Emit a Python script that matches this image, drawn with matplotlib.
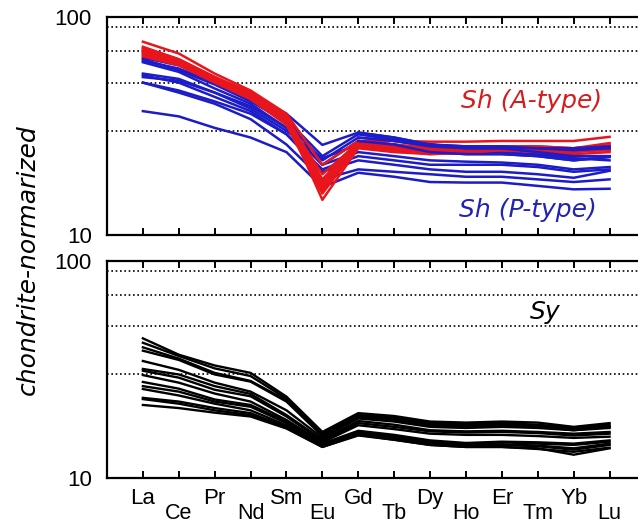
# plot.py
# ===============================================================
#   REE PATTERNS (CHONDRITE-NORMALIZED) - Sh vs Sy
# ===============================================================

import matplotlib
matplotlib.use("Agg")
import matplotlib.pyplot as plt
import matplotlib.transforms as mtransforms


# ===============================================================
# 1. DATA
# ===============================================================

elements = ["La", "Ce", "Pr", "Nd", "Sm", "Eu", "Gd",
            "Tb", "Dy", "Ho", "Er", "Tm", "Yb", "Lu"]

# Sh (P-type) - blue
sh_p_type = [
    [65, 60, 52, 44, 36, 25.9, 29.5, 28, 26, 25, 25, 25, 25, 25.5],
    [63, 58, 50, 42, 34, 23, 29, 27.5, 26, 25.5, 25.5, 25, 24.5, 25],
    [64, 57, 49, 41, 33, 22, 28, 27, 25.5, 25, 25, 24, 23, 23],
    [62, 56, 47, 40, 31, 21, 27, 26, 24, 23.5, 23.5, 23, 22, 22.8],
    [53, 51, 45, 39, 31, 21, 24, 23, 22, 21.7, 21.5, 21, 20, 20.5],
    [54, 50, 43, 37, 29, 20, 23, 22, 21, 21, 21, 20.5, 19.5, 20],
    [50, 46, 41, 36, 29, 19.5, 22, 21, 20, 19.5, 19.5, 19, 18.3, 19.7],
    [50, 45, 40, 34, 26, 18, 20, 19.5, 19, 18.5, 18.5, 18, 17.5, 18],
    [37, 35, 31, 28, 24, 16.6, 19.3, 18.5, 17.5, 17.4, 17.4, 16.8, 16.2, 16.3],
    [55, 52, 45, 38, 30, 22.5, 26, 25, 24, 24, 24, 23.5, 22.5, 22],
]

# Sh (A-type) - red
sh_a_type = [
    [77, 68, 55, 46, 36, 21, 27, 27, 26.8, 26.8, 27, 27, 27, 28.2],
    [72, 64, 53, 45, 35, 18, 27, 26, 25, 25, 25.5, 25.5, 25, 26.4],
    [70, 62, 52, 44, 34, 17, 26.5, 25.5, 24.5, 24.5, 25, 25, 24.5, 25.5],
    [68, 61, 51, 43, 33, 16, 26, 25, 24, 24, 24.5, 24.5, 24, 25],
    [69, 62, 51, 43.5, 33, 17.5, 26, 25, 24, 24.3, 24.8, 24.5, 24.2, 24.5],
    [66, 60, 50, 42, 32, 15.5, 25.5, 24.5, 23.5, 23.8, 24.5, 24, 23.5, 24],
    [71, 63, 53, 44, 34, 14.5, 25, 24, 23.5, 24, 24.5, 24.5, 24, 25],
    [67, 61, 52, 44, 34, 19, 26.5, 25.5, 24.5, 25, 25, 25, 24.5, 24.5],
    [73, 64, 53, 45, 34, 16.5, 27, 26, 25, 25, 25.5, 25.5, 25, 25.8],
]

# Sy - black
sy = [
    [44, 37, 33, 30.5, 23.7, 16.3, 19.9, 19.3, 18.2, 18, 18.2, 18, 17.2, 17.9],
    [42, 36.5, 32, 29.5, 23.2, 16, 19.5, 19, 18, 17.8, 17.9, 17.6, 17, 17.6],
    [40, 35.5, 30.5, 28, 22.8, 15.8, 19.3, 18.7, 17.7, 17.5, 17.6, 17.4, 16.8, 17.3],
    [38.6, 35, 30, 27.8, 22.5, 15.6, 19, 18.4, 17.4, 17.3, 17.4, 17.2, 16.6, 17],
    [34.6, 31.5, 27.5, 25, 20.5, 15.3, 18.8, 18.2, 17.2, 17, 17.2, 17, 16.6, 17.2],
    [31.8, 30, 26.5, 24.4, 19.5, 15, 18.3, 17.6, 16.6, 16.4, 16.5, 16.3, 16, 16.3],
    [31.2, 29, 25.5, 23.8, 19.2, 14.8, 17.9, 17.2, 16.4, 16.2, 16.3, 16.1, 15.7, 16],
    [29.8, 27.5, 24.5, 22.5, 18.5, 14.6, 17.5, 16.8, 16, 15.8, 15.8, 15.6, 15.3, 15.5],
    [27.7, 25.8, 23, 21.7, 18.2, 14.4, 16.5, 15.8, 14.9, 14.5, 14.7, 14.6, 14.4, 14.9],
    [26.5, 25, 22.5, 21.3, 17.9, 14.3, 16.3, 15.6, 14.7, 14.3, 14.6, 14.4, 14.2, 14.7],
    [25.7, 24, 22, 20.5, 17.5, 14.1, 16.1, 15.4, 14.5, 14.2, 14.3, 14.1, 13.7, 14.4],
    [23.4, 22.5, 21, 19.9, 17.2, 14, 16, 15.3, 14.3, 14, 14.2, 14, 13.5, 14.2],
    [23.1, 22, 20.5, 19.5, 17, 13.9, 15.8, 15, 14.2, 13.9, 13.9, 13.7, 12.8, 13.7],
    [21.7, 21, 20, 19.2, 16.9, 13.9, 15.7, 15, 14.2, 13.9, 13.9, 13.6, 13.2, 13.8],
]

grid_levels = [30, 50, 70, 90]

RED = "#e8161c"
BLUE = "#1c1cc8"
LABEL_FONT = "Liberation Sans"
NOTE_FONT = "DejaVu Sans"


# ===============================================================
# 2. AXES HELPER
# ===============================================================

def style_axis(ax):
    x = range(len(elements))
    ax.set_yscale("log")
    ax.set_ylim(10, 100)
    ax.set_xlim(-1, 14)

    for lvl in grid_levels:
        ax.axhline(lvl, color="black", linestyle=(0, (1, 1.6)), linewidth=1.2, zorder=1)

    ax.set_yticks([10, 100])
    ax.set_yticklabels(["10", "100"], fontsize=16, family=LABEL_FONT)
    ax.yaxis.set_minor_locator(matplotlib.ticker.NullLocator())
    ax.tick_params(axis="y", length=0, pad=11)

    ax.set_xticks(list(x))
    ax.set_xticklabels([])
    ax.tick_params(axis="x", direction="in", length=5, width=1.4,
                   top=True, bottom=True)

    for s in ax.spines.values():
        s.set_linewidth(1.6)


fig = plt.figure(figsize=(6.38, 5.26), dpi=100)
ax1 = fig.add_axes([0.1677, 0.5532, 0.844, 0.4145])
ax2 = fig.add_axes([0.1677, 0.0913, 0.844, 0.4125])

style_axis(ax1)
style_axis(ax2)

x = list(range(len(elements)))

# -----------------------------
# TOP PANEL : Sh
# -----------------------------
for row in sh_p_type:
    ax1.plot(x, row, color=BLUE, linewidth=1.8, zorder=2)
for row in sh_a_type:
    ax1.plot(x, row, color=RED, linewidth=1.8, zorder=3)
for row in sh_p_type[:4]:
    ax1.plot(x[6:], row[6:], color=BLUE, linewidth=1.8, zorder=4)

ax1.text(12.8, 41, "Sh (A-type)", color="#d41e1e", fontsize=18,
         style="italic", family=NOTE_FONT, ha="right", va="center")
ax1.text(12.65, 13.0, "Sh (P-type)", color="#2222b4", fontsize=18,
         style="italic", family=NOTE_FONT, ha="right", va="center")

# -----------------------------
# BOTTOM PANEL : Sy
# -----------------------------
for row in sy:
    ax2.plot(x, row, color="black", linewidth=1.7, zorder=3)

ax2.text(11.2, 58, "Sy", color="black", fontsize=18,
         style="italic", family=NOTE_FONT, ha="center", va="center")

# element labels, alternating rows (lower row kept inside the figure)
trans = mtransforms.blended_transform_factory(ax2.transData, ax2.transAxes)
for i, el in enumerate(elements):
    if i % 2 == 0:
        ax2.text(i, -0.045, el, transform=trans, ha="center", va="top",
                 fontsize=16, family=LABEL_FONT)
    else:
        ax2.text(i, -0.21, el, transform=trans, ha="center", va="bottom",
                 fontsize=15.5, family=LABEL_FONT)

fig.text(0.044, 1 - 260 / 526, "chondrite-normarized", rotation=90,
         ha="center", va="center", fontsize=18, style="italic", family=NOTE_FONT)

fig.savefig("out.png", dpi=100)
